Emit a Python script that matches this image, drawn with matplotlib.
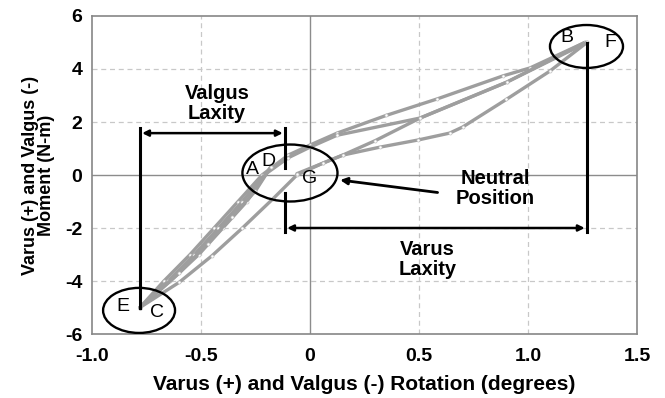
import matplotlib.pyplot as plt
from matplotlib.patches import Ellipse

plt.rcParams['font.family'] = ['Liberation Sans', 'DejaVu Sans']
plt.rcParams['axes.unicode_minus'] = False

# traces (rotation in degrees, moment in N-m)
# E/C -> A -> B along the top path
p1_x = [-0.78, -0.67, -0.55, -0.44, -0.33, -0.22, -0.10, 0.0, 0.124, 0.35, 0.583, 0.885, 1.009, 1.26]
p1_y = [-5.0, -4.0, -3.0, -2.0, -1.0, 0.0, 0.75, 1.13, 1.58, 2.25, 2.87, 3.74, 4.04, 5.0]
# B -> C
p2_x = [1.26, 0.904, 0.505, 0.124, 0.0, -0.10, -0.21, -0.31, -0.42, -0.53, -0.65, -0.78]
p2_y = [5.0, 3.51, 2.15, 1.50, 1.05, 0.65, 0.0, -1.0, -2.0, -3.0, -4.0, -5.0]
# C -> D
p3_x = [-0.78, -0.64, -0.51, -0.40, -0.29, -0.18]
p3_y = [-5.0, -4.0, -3.0, -2.0, -1.0, 0.3]
# D -> E
p4_x = [-0.18, -0.25, -0.36, -0.47, -0.60, -0.78]
p4_y = [0.3, -0.6, -1.6, -2.6, -3.7, -5.0]
# E -> F along the lower path
p5_x = [-0.78, -0.60, -0.45, -0.31, -0.17, -0.06, 0.06, 0.15, 0.32, 0.495, 0.64, 0.70, 0.90, 1.10, 1.27]
p5_y = [-5.0, -4.05, -3.05, -2.0, -0.9, 0.0, 0.45, 0.75, 1.05, 1.32, 1.58, 1.81, 2.85, 3.92, 5.0]
# F -> G
p6_x = [1.27, 0.904, 0.505, 0.30, 0.15, 0.06, -0.06]
p6_y = [5.0, 3.51, 2.15, 1.30, 0.75, 0.45, 0.05]

paths = [(p1_x, p1_y), (p2_x, p2_y), (p3_x, p3_y), (p4_x, p4_y), (p5_x, p5_y), (p6_x, p6_y)]

point_labels = ['A', 'D', 'G', 'B', 'F', 'E', 'C']
point_x = [-0.266, -0.19, 0.0, 1.18, 1.375, -0.858, -0.70]
point_y = [0.2, 0.5, -0.12, 5.17, 5.0, -4.98, -5.2]

xticks = [-1.0, -0.5, 0, 0.5, 1.0, 1.5]
xtick_labels = ['-1.0', '-0.5', '0', '0.5', '1.0', '1.5']
yticks = [-6, -4, -2, 0, 2, 4, 6]

fig = plt.figure(figsize=(6.65, 3.98), dpi=100)
ax = fig.add_axes([0.1383, 0.1608, 0.8197, 0.799])
ax.set_xlim(-1.0, 1.5)
ax.set_ylim(-6, 6)

# grid
for gx in [-0.5, 0.5, 1.0]:
    ax.axvline(gx, color='#c8c8c8', lw=0.9, ls=(0, (4, 3)), zorder=0)
for gy in [-4, -2, 2, 4]:
    ax.axhline(gy, color='#c8c8c8', lw=0.9, ls=(0, (4, 3)), zorder=0)
ax.axvline(0, color='#8c8c8c', lw=1.0, zorder=0)
ax.axhline(0, color='#8c8c8c', lw=1.0, zorder=0)

for px, py in paths:
    ax.plot(px, py, color='#9e9e9e', lw=2.4, marker='o', ms=2.2,
            mfc='white', mec='#c0c0c0', mew=0.5, zorder=2, solid_capstyle='round')

for s in ax.spines.values():
    s.set_color('#868686')
    s.set_linewidth(1.2)

ax.set_xticks(xticks)
ax.set_xticklabels(xtick_labels)
ax.set_yticks(yticks)
ax.tick_params(length=0, labelsize=14)
ax.tick_params(axis='x', pad=10)
ax.tick_params(axis='y', pad=7)
for t in ax.get_xticklabels() + ax.get_yticklabels():
    t.set_fontweight('bold')

ax.set_xlabel('Varus (+) and Valgus (-) Rotation (degrees)', fontsize=15, fontweight='bold')
ax.xaxis.set_label_coords(0.5, -0.13)
ax.set_ylabel('Varus (+) and Valgus (-)\nMoment (N-m)', fontsize=13, fontweight='bold',
              linespacing=0.95)
ax.yaxis.set_label_coords(-0.068, 0.5)

# ellipses
ax.add_patch(Ellipse((-0.092, 0.075), 0.436, 2.15, fill=False, ec='black', lw=1.7, zorder=4))
ax.add_patch(Ellipse((1.268, 4.85), 0.335, 1.62, fill=False, ec='black', lw=1.7, zorder=4))
ax.add_patch(Ellipse((-0.784, -5.11), 0.33, 1.7, fill=False, ec='black', lw=1.7, zorder=4))

for lab, lx, ly in zip(point_labels, point_x, point_y):
    ax.text(lx, ly, lab, fontsize=14, ha='center', va='center', zorder=5)

# laxity markers
ax.plot([-0.78, -0.78], [-5.0, 1.77], color='black', lw=2.2, zorder=3)
ax.plot([-0.115, -0.115], [0.26, 1.77], color='black', lw=2.2, zorder=3)
ax.plot([-0.115, -0.115], [-2.15, -0.68], color='black', lw=2.2, zorder=3)
ax.plot([1.27, 1.27], [-2.15, 4.98], color='black', lw=2.2, zorder=3)
ax.annotate('', xy=(-0.77, 1.58), xytext=(-0.125, 1.58),
            arrowprops=dict(arrowstyle='<|-|>', color='black', lw=1.8,
                            mutation_scale=9, shrinkA=0, shrinkB=0), zorder=3)
ax.annotate('', xy=(-0.105, -2.0), xytext=(1.26, -2.0),
            arrowprops=dict(arrowstyle='<|-|>', color='black', lw=1.8,
                            mutation_scale=9, shrinkA=0, shrinkB=0), zorder=3)
ax.annotate('', xy=(0.138, -0.19), xytext=(0.585, -0.66),
            arrowprops=dict(arrowstyle='-|>', color='black', lw=2.0,
                            mutation_scale=10, shrinkA=0, shrinkB=0), zorder=3)

ax.text(-0.427, 2.7, 'Valgus\nLaxity', fontsize=14.5, fontweight='bold', ha='center',
        va='center', linespacing=1.05)
ax.text(0.85, -0.5, 'Neutral\nPosition', fontsize=14.5, fontweight='bold', ha='center',
        va='center', linespacing=1.05)
ax.text(0.54, -3.2, 'Varus\nLaxity', fontsize=14.5, fontweight='bold', ha='center',
        va='center', linespacing=1.05)

fig.savefig('out.png', dpi=100)
